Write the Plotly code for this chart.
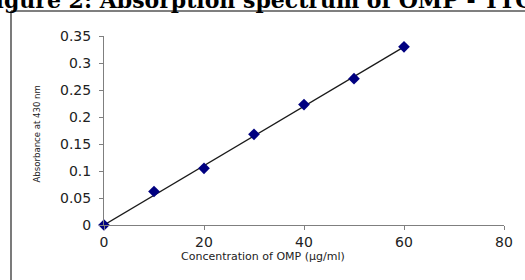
import numpy as np
import plotly.graph_objects as go

conc = [0, 10, 20, 30, 40, 50, 60]
absorb = [0.0, 0.062, 0.105, 0.168, 0.223, 0.271, 0.330]
x_ticks = [0, 20, 40, 60, 80]
y_ticks = [0, 0.05, 0.1, 0.15, 0.2, 0.25, 0.3, 0.35]
y_tick_text = ["0", "0.05", "0.1", "0.15", "0.2", "0.25", "0.3", "0.35"]

# linear trendline through origin
xa = np.array(conc, dtype=float)
ya = np.array(absorb, dtype=float)
slope = float((xa * ya).sum() / (xa * xa).sum())
trend_x = [0, 60]
trend_y = [slope * v for v in trend_x]

W, H = 525, 280


def fx(x):
    return x / W


def fy(y):
    return 1 - y / H


tick_font = dict(family="DejaVu Sans", size=14, color="#222222")

fig = go.Figure()
fig.add_trace(go.Scatter(x=trend_x, y=trend_y, mode="lines",
                         line=dict(color="#1a1a1a", width=1.3),
                         hoverinfo="skip", showlegend=False))
fig.add_trace(go.Scatter(x=conc, y=absorb, mode="markers",
                         marker=dict(symbol="diamond", size=9, color="#000080"),
                         showlegend=False, cliponaxis=False))

fig.update_layout(
    width=W, height=H,
    margin=dict(l=0, r=0, t=0, b=0, pad=0),
    paper_bgcolor="white", plot_bgcolor="white",
    font=dict(family="DejaVu Sans", size=13, color="#222222"),
    xaxis=dict(domain=[fx(104), fx(504)], range=[0, 80], tickvals=x_ticks,
               showgrid=False, zeroline=False, automargin=False,
               showline=True, linecolor="#7f7f7f", linewidth=1,
               ticks="outside", ticklen=4, tickcolor="#7f7f7f",
               tickfont=tick_font),
    yaxis=dict(domain=[fy(225), fy(36)], range=[0, 0.35], tickvals=y_ticks,
               ticktext=y_tick_text, showgrid=False, zeroline=False,
               automargin=False, ticklabelstandoff=5,
               showline=True, linecolor="#7f7f7f", linewidth=1,
               ticks="outside", ticklen=4, tickcolor="#7f7f7f",
               tickfont=tick_font),
    shapes=[
        dict(type="line", xref="paper", yref="paper",
             x0=fx(11), y0=fy(11), x1=1, y1=fy(11),
             line=dict(color="#555555", width=1.3)),
        dict(type="line", xref="paper", yref="paper",
             x0=fx(11), y0=fy(11), x1=fx(11), y1=0,
             line=dict(color="#333333", width=1.3)),
    ],
    annotations=[
        dict(text="<b>Figure 2: Absorption spectrum of OMP - TTC complex</b>",
             xref="paper", yref="paper", x=fx(-22), y=fy(15),
             xanchor="left", yanchor="bottom", showarrow=False,
             font=dict(family="DejaVu Serif", size=22, color="black")),
        dict(text="Absorbance at 430 nm", xref="paper", yref="paper",
             x=fx(28), y=fy(134), textangle=-90, showarrow=False,
             font=dict(family="DejaVu Sans Condensed, DejaVu Sans",
                       size=9.5, color="#222222")),
        dict(text="Concentration of OMP (µg/ml)", xref="paper", yref="paper",
             x=fx(263), y=fy(265), showarrow=False,
             font=dict(family="DejaVu Sans", size=11, color="#222222")),
    ],
)
fig.write_html("out.html", config={"displayModeBar": False},
               post_script="document.body.style.margin='0';document.body.style.padding='0';")
